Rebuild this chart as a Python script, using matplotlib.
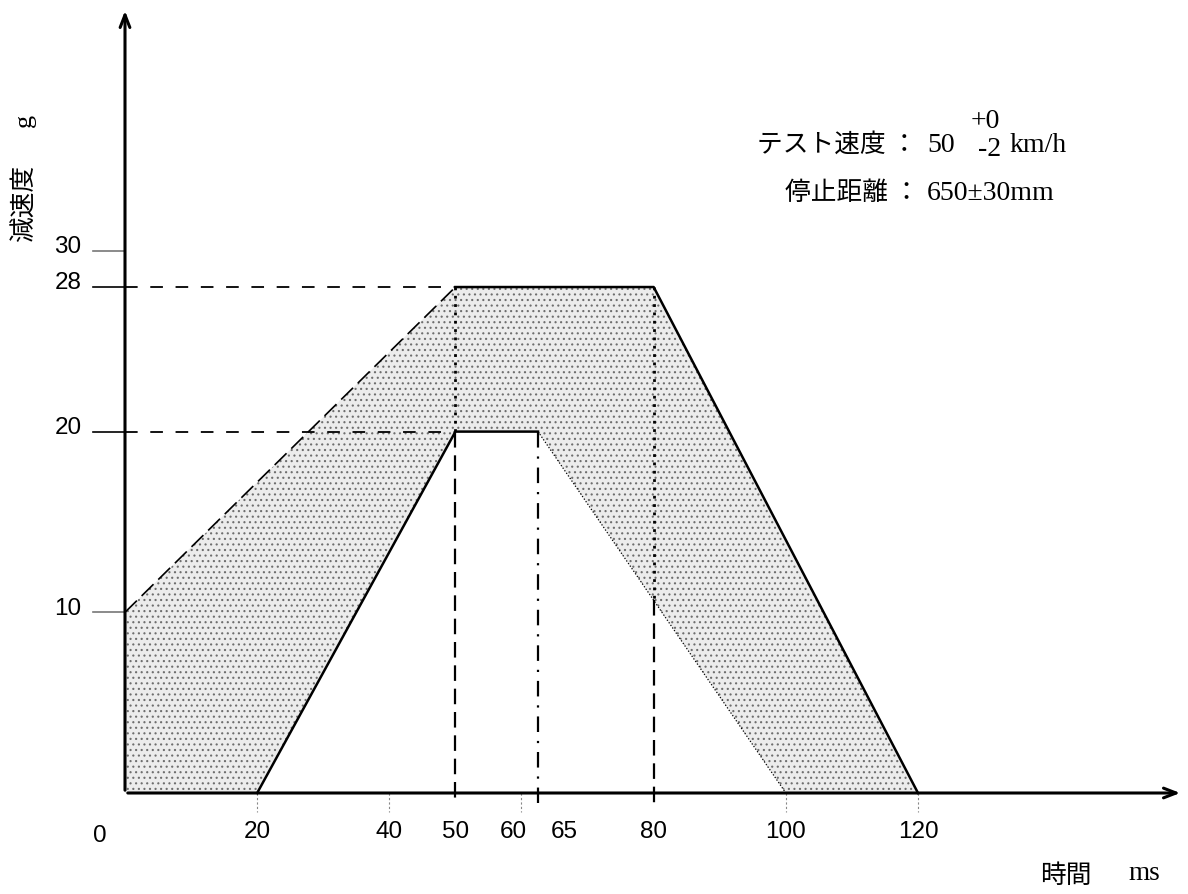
import matplotlib as mpl

mpl.use('Agg')
import matplotlib.pyplot as plt
import numpy as np

# corridor (time ms, deceleration g)
upper_t = [0, 50, 80, 120]
upper_g = [10, 28, 28, 0]
lower_t = [20, 50, 62.5, 100]
lower_g = [0, 20, 20, 0]

ytick_vals = [10, 20, 28, 30]
xtick_vals = [0, 20, 40, 50, 60, 65, 80, 100, 120]
xtick_labels = ['0', '20', '40', '50', '60', '65', '80', '100', '120']

SANS = ['Liberation Sans', 'DejaVu Sans']
SERIF_JP = ['Liberation Serif', 'Noto Sans CJK JP', 'DejaVu Sans']
JP = ['Noto Sans CJK JP', 'DejaVu Sans']

mpl.rcParams['hatch.linewidth'] = 0.8

# pixel layout of the figure (1188 x 894 at dpi 100)
px_x0, px_y0 = 125, 793
px_per_ms = 793 / 120
px_per_g = 18.07


def dx(px):
    return (px - px_x0) / px_per_ms


def dy(py):
    return (px_y0 - py) / px_per_g


fig = plt.figure(figsize=(11.88, 8.94), dpi=100)
ax = fig.add_axes([0, 0, 1, 1])
ax.set_xlim(dx(0), dx(1188))
ax.set_ylim(dy(894), dy(0))
ax.axis('off')

# shaded corridor
poly_t = [0] + upper_t + lower_t[::-1]
poly_g = [0] + upper_g + lower_g[::-1]
ax.fill(poly_t, poly_g, facecolor='#ececec', edgecolor='#6e6e6e',
        hatch='...', lw=0, zorder=1)

# upper bound
ax.plot(upper_t[:2], upper_g[:2], color='k', lw=1.2,
        dashes=(10, 4), zorder=3)
ax.plot(upper_t[1:], upper_g[1:], color='k', lw=1.8, zorder=3)

# lower bound
ax.plot(lower_t[:3], lower_g[:3], color='k', lw=1.8, zorder=3)
ax.plot(lower_t[2:], lower_g[2:], color='k', lw=0.9, ls=(0, (1, 1.5)),
        zorder=3)

# reference lines at 28 and 20
for g in (upper_g[1], lower_g[1]):
    ax.plot([0, upper_t[1]], [g, g], color='k', lw=1.3, dashes=(7, 7),
            zorder=3)

# verticals
below = dy(803)
g80 = np.interp(upper_t[2], lower_t, lower_g)
ax.plot([upper_t[1], upper_t[1]], [upper_g[1], lower_g[1]], color='k',
        lw=2, ls=(0, (1, 2)), zorder=3)
ax.plot([upper_t[1], upper_t[1]], [lower_g[1], below], color='k', lw=1.6,
        dashes=(7, 3.5), zorder=3)
ax.plot([upper_t[2], upper_t[2]], [upper_g[2], g80], color='k', lw=2,
        ls=(0, (1, 2)), zorder=3)
ax.plot([upper_t[2], upper_t[2]], [g80, below], color='k', lw=1.6,
        dashes=(7, 3.5), zorder=3)
ax.plot([lower_t[2], lower_t[2]], [lower_g[2], below], color='k', lw=1.6,
        dashes=(7, 4, 1, 4), zorder=3)

# faint ticks under the x axis
for t in (20, 40, 60, 100, 120):
    ax.plot([t, t], [0, dy(812)], color='#888888', lw=0.8,
            ls=(0, (2, 2)), zorder=2)

# axes with arrows
ax.annotate('', xy=(0, dy(8)), xytext=(0, 0),
            arrowprops=dict(arrowstyle='->,head_length=0.9,head_width=0.35',
                            lw=2.2, color='k'), zorder=4)
ax.annotate('', xy=(dx(1183), 0), xytext=(0, 0),
            arrowprops=dict(arrowstyle='->,head_length=0.9,head_width=0.35',
                            lw=2.2, color='k'), zorder=4)

# y ticks and labels
for g in ytick_vals:
    col = 'k' if g in (20, 28) else '#777777'
    ax.plot([dx(93), 0], [g, g], color=col, lw=1.2, zorder=3)
    ax.text(dx(68), g + 0.2, str(g), fontsize=17.5, family=SANS,
            ha='center', va='center')

# x tick labels (some shifted as drawn)
shift = {'0': -25, '60': -8, '65': 10}
for t, lab in zip(xtick_vals, xtick_labels):
    px = px_x0 + t * px_per_ms + shift.get(lab, 0)
    ax.text(dx(px), dy(836 if lab == '0' else 832), lab, fontsize=17.5,
            family=SANS, ha='center', va='center')

# axis titles
ax.text(dx(25), dy(203), '減速度', rotation=90, fontsize=18.5, family=JP,
        ha='center', va='center')
ax.text(dx(25), dy(120), 'g', rotation=90, fontsize=19, family=SERIF_JP,
        ha='center', va='center')
ax.text(dx(1066), dy(876), '時間', fontsize=18.5, family=JP,
        ha='center', va='center')
ax.text(dx(1144), dy(874), 'ms', fontsize=19.5, family=SERIF_JP,
        ha='center', va='center')

# test conditions
ax.text(dx(757), dy(145), 'テスト速度 ：', fontsize=18.5, family=JP,
        ha='left', va='center')
ax.text(dx(927), dy(146), '50', fontsize=20, family=SERIF_JP,
        ha='left', va='center')
ax.text(dx(985), dy(122), '+0', fontsize=20, family=SERIF_JP,
        ha='center', va='center')
ax.text(dx(990), dy(150), '-2', fontsize=20, family=SERIF_JP,
        ha='center', va='center')
ax.text(dx(1010), dy(146), 'km/h', fontsize=20, family=SERIF_JP,
        ha='left', va='center')
ax.text(dx(785), dy(193), '停止距離 ：', fontsize=18.5, family=JP,
        ha='left', va='center')
ax.text(dx(927), dy(194), '650±30mm', fontsize=20, family=SERIF_JP,
        ha='left', va='center')

plt.savefig('out.png', dpi=100)
